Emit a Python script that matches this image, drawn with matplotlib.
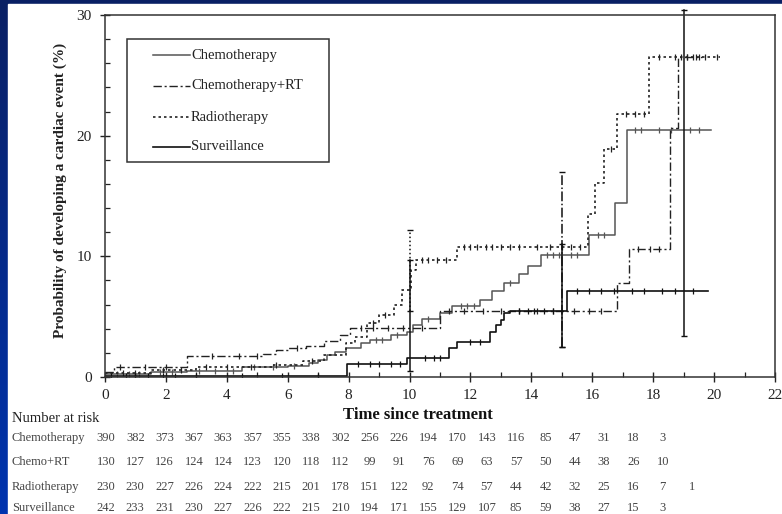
import numpy as np
import matplotlib.pyplot as plt
from matplotlib.patches import Rectangle
from matplotlib.ticker import MultipleLocator

plt.rcParams['font.family'] = ['Liberation Serif', 'DejaVu Serif']

W, H = 782, 514

# cumulative probability of a cardiac event (%)
# step times (years) and the level reached at each step
chemo_t = [0, 1.5, 2.7, 4.5, 6.0, 6.7, 7.0, 7.3, 7.55, 7.9, 8.4, 8.7, 9.4, 9.9,
           10.1, 10.4, 11.0, 11.4, 12.3, 12.7, 13.1, 13.6, 13.9, 14.3, 15.9, 16.75, 17.15]
chemo_p = [0.25, 0.4, 0.5, 0.8, 0.9, 1.2, 1.4, 1.8, 2.1, 2.4, 2.8, 3.1, 3.5, 3.7,
           4.3, 4.8, 5.3, 5.9, 6.4, 7.1, 7.8, 8.5, 9.2, 10.1, 11.8, 14.4, 20.5]
chemo_end = 19.9

crt_t = [0, 0.3, 2.7, 5.2, 5.6, 6.0, 6.6, 7.2, 7.7, 8.05, 11.0, 16.8, 17.2, 18.55, 18.8]
crt_p = [0.4, 0.8, 1.7, 1.9, 2.2, 2.4, 2.6, 3.0, 3.5, 4.1, 5.5, 7.8, 10.6, 20.6, 26.5]
crt_end = 19.6

radio_t = [0, 1.5, 3.0, 5.5, 6.5, 7.2, 7.9, 8.2, 8.6, 9.0, 9.5, 9.75, 10.05, 10.2,
           11.55, 15.85, 16.1, 16.4, 16.8, 17.85]
radio_p = [0.3, 0.6, 0.8, 1.0, 1.3, 1.8, 2.8, 3.3, 4.5, 5.15, 6.0, 7.2, 8.9, 9.7,
           10.8, 13.5, 16.1, 18.9, 21.8, 26.5]
radio_end = 20.2

surv_t = [0, 7.95, 9.9, 11.3, 11.55, 12.65, 12.85, 13.0, 13.1, 13.3, 15.17]
surv_p = [0.1, 1.1, 1.6, 2.4, 2.9, 3.7, 4.3, 4.7, 5.3, 5.5, 7.1]
surv_end = 19.8

# censoring marks (years)
chemo_cens = [0.4, 0.8, 1.1, 1.8, 2.2, 3.1, 3.6, 4.2, 4.9, 5.5, 6.2, 8.9, 9.1, 9.6,
              10.6, 11.7, 11.9, 12.1, 13.3, 14.5, 14.7, 14.9, 15.3, 15.5, 16.2, 16.4,
              17.4, 17.6, 18.2, 18.6, 19.2, 19.5]
crt_cens = [0.5, 1.3, 2.0, 3.5, 4.4, 5.0, 6.3, 8.4, 8.8, 9.3, 9.8, 10.4, 11.3, 11.8,
            12.4, 13.0, 13.6, 14.2, 14.7, 15.4, 15.9, 16.3, 17.5, 17.9, 18.2, 19.1, 19.4]
radio_cens = [0.6, 1.0, 1.9, 2.5, 3.3, 4.0, 4.8, 5.6, 6.8, 8.8, 9.2, 10.4, 10.6, 10.9,
              11.2, 11.8, 12.0, 12.2, 12.5, 12.7, 13.0, 13.3, 13.6, 14.2, 14.6, 15.0,
              15.3, 15.6, 16.6, 17.1, 17.4, 17.7, 18.2, 18.7, 18.9, 19.1, 19.3, 19.5,
              19.7, 20.1]
surv_cens = [0.2, 0.7, 1.0, 1.4, 1.9, 2.3, 3.0, 4.5, 5.8, 7.0, 8.3, 8.7, 9.0, 9.4,
             9.7, 10.5, 10.8, 11.0, 12.0, 12.3, 13.6, 13.9, 14.1, 14.4, 14.7, 15.5,
             15.9, 16.3, 16.7, 17.3, 17.7, 18.3, 18.7, 19.3]

# confidence bars
ci_t = [10, 10, 15, 15, 19]
ci_lo = [0.5, 5.5, 2.5, 2.5, 3.4]
ci_hi = [9.7, 12.2, 11.0, 17.0, 30.4]
ci_ls = ['-', ':', '-', '-.', '-']

# number at risk table
risk_groups = ['Chemotherapy', 'Chemo+RT', 'Radiotherapy', 'Surveillance']
risk_chemo = [390, 382, 373, 367, 363, 357, 355, 338, 302, 256, 226, 194, 170, 143, 116, 85, 47, 31, 18, 3]
risk_crt = [130, 127, 126, 124, 124, 123, 120, 118, 112, 99, 91, 76, 69, 63, 57, 50, 44, 38, 26, 10]
risk_radio = [230, 230, 227, 226, 224, 222, 215, 201, 178, 151, 122, 92, 74, 57, 44, 42, 32, 25, 16, 7, 1]
risk_surv = [242, 233, 231, 230, 227, 226, 222, 215, 210, 194, 171, 155, 129, 107, 85, 59, 38, 27, 15, 3]

fig = plt.figure(figsize=(W / 100, H / 100), dpi=100)

# blue slide background with white page
bg = fig.add_axes([0, 0, 1, 1], zorder=-5)
grad = np.linspace(0, 1, 256)[:, None]
top_c = np.array([10, 32, 100]) / 255
bot_c = np.array([0, 52, 175]) / 255
img = top_c[None, None, :] * (1 - grad[:, :, None]) + bot_c[None, None, :] * grad[:, :, None]
bg.imshow(img, aspect='auto', extent=[0, 1, 0, 1])
bg.add_patch(Rectangle((8 / W, 0), 1, 1 - 4 / H, color='white'))
bg.set_xlim(0, 1)
bg.set_ylim(0, 1)
bg.axis('off')

L, R, T, B = 105, 775, 15, 377
ax = fig.add_axes([L / W, 1 - B / H, (R - L) / W, (B - T) / H])
ax.set_facecolor('none')

styles = {
    'chemo': dict(color='#555555', lw=1.1, ls='-'),
    'crt': dict(color='#222222', lw=1.0, ls=(0, (6, 2, 1.5, 2))),
    'radio': dict(color='#222222', lw=1.2, ls=(0, (1.5, 1.8))),
    'surv': dict(color='#111111', lw=1.2, ls='-'),
}


def step_curve(t, p, end, st, cens):
    tt = list(t) + [end]
    pp = list(p) + [p[-1]]
    ax.step(tt, pp, where='post', color=st['color'], lw=st['lw'], linestyle=st['ls'])
    c = np.array(cens)
    idx = np.searchsorted(np.array(t), c, side='right') - 1
    ax.plot(c, np.array(p)[idx], linestyle='none', marker='|', ms=4,
            mew=0.9, color=st['color'])


step_curve(chemo_t, chemo_p, chemo_end, styles['chemo'], chemo_cens)
step_curve(crt_t, crt_p, crt_end, styles['crt'], crt_cens)
step_curve(radio_t, radio_p, radio_end, styles['radio'], radio_cens)
step_curve(surv_t, surv_p, surv_end, styles['surv'], surv_cens)

for t, lo, hi, ls in zip(ci_t, ci_lo, ci_hi, ci_ls):
    ax.plot([t, t], [lo, hi], color='#111111', lw=1.1, linestyle=ls, clip_on=False)
    ax.plot([t, t], [lo, hi], linestyle='none', marker='_', ms=5, mew=1.0,
            color='#111111', clip_on=False)

ax.set_xlim(0, 22)
ax.set_ylim(0, 30)
ax.xaxis.set_major_locator(MultipleLocator(2))
ax.xaxis.set_minor_locator(MultipleLocator(1))
ax.yaxis.set_major_locator(MultipleLocator(10))
ax.yaxis.set_minor_locator(MultipleLocator(2))
ax.tick_params(which='major', direction='inout', length=7, width=1, labelsize=11,
               colors='#222222')
ax.tick_params(which='minor', direction='in', length=3.5, width=0.9, colors='#222222')
ax.tick_params(axis='x', which='major', pad=5)
ax.tick_params(axis='y', which='major', pad=6)
for s in ax.spines.values():
    s.set_color('#333333')
    s.set_linewidth(1.1)

ax.text((60 - L) / (R - L), (B - 190) / (B - T),
        'Probability of developing a cardiac event (%)', transform=ax.transAxes,
        rotation=90, ha='center', va='center', fontsize=11, fontweight='bold',
        color='#222222')
ax.text((418 - L) / (R - L), (B - 415) / (B - T), 'Time since treatment',
        transform=ax.transAxes, ha='center', va='center', fontsize=12,
        fontweight='bold', color='#111111')


# legend box drawn by hand
def ax_xy(px, py):
    return (px - L) / (R - L), (B - py) / (B - T)


x0, y0 = ax_xy(127, 162)
x1, y1 = ax_xy(329, 39)
ax.add_patch(Rectangle((x0, y0), x1 - x0, y1 - y0, transform=ax.transAxes,
                       fill=False, edgecolor='#333333', lw=1.1))
leg_labels = ['Chemotherapy', 'Chemotherapy+RT', 'Radiotherapy', 'Surveillance']
leg_keys = ['chemo', 'crt', 'radio', 'surv']
leg_y = [55, 86, 117, 147]
for lab, key, py in zip(leg_labels, leg_keys, leg_y):
    st = styles[key]
    hx0, hy = ax_xy(153, py)
    hx1, _ = ax_xy(190, py)
    ax.plot([hx0, hx1], [hy, hy], transform=ax.transAxes, color=st['color'],
            lw=st['lw'], linestyle=st['ls'], clip_on=False)
    tx, _ = ax_xy(191, py)
    ax.text(tx, hy, lab, transform=ax.transAxes, ha='left', va='center',
            fontsize=10.5, color='#222222')

# number at risk
fig.text(12 / W, 1 - 418 / H, 'Number at risk', ha='left', va='center',
         fontsize=10.5, color='#222222')
row_y = [438, 462, 487, 508]
col0, dcol = 106, 29.3
for name, vals, py in zip(risk_groups, [risk_chemo, risk_crt, risk_radio, risk_surv], row_y):
    fig.text(12 / W, 1 - py / H, name, ha='left', va='center', fontsize=9,
             color='#444444')
    for i, v in enumerate(vals):
        fig.text((col0 + i * dcol) / W, 1 - py / H, str(v), ha='center',
                 va='center', fontsize=9, color='#444444')

fig.savefig('out.png', dpi=100)
